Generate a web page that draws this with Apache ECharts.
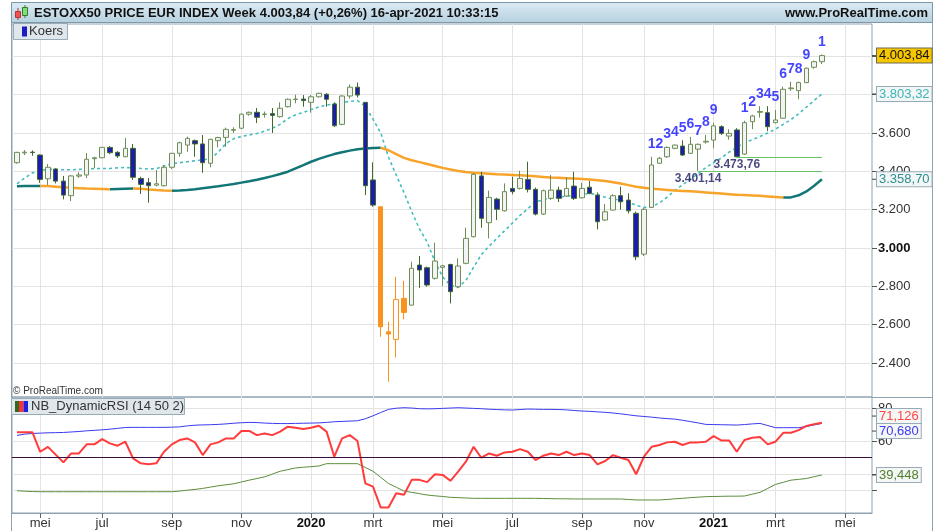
<!DOCTYPE html>
<html>
<head>
<meta charset="utf-8">
<script src="https://cdn.jsdelivr.net/npm/echarts@6/dist/echarts.min.js"></script>
<style>
html,body{margin:0;padding:0;background:#fff;}
#chart{width:940px;height:531px;}
</style>
</head>
<body>
<div id="chart"></div>
<script>
/* DATOS SEMANALES ESTOXX50 (abr 2019 - abr 2021) */
var opens = [
	3445,3496,3500,3485,3361,3412,3349,3273,3375,3381,
	3466,3471,3525,3499,3476,3520,3363,3341,3328,3325,
	3421,3494,3537,3560,3543,3442,3560,3577,3614,3625,
	3698,3708,3697,3701,3685,3737,3775,3777,3760,3789,
	3802,3751,3645,3793,3839,3760,3355,3215,2563,2523,
	2737,2702,2911,2897,2842,2899,2914,2798,2920,3059,
	3376,3132,3255,3194,3311,3311,3358,3306,3177,3259,
	3302,3271,3323,3262,3317,3276,3146,3198,3273,3250,
	3181,2968,3212,3442,3476,3520,3532,3494,3516,3553,
	3563,3633,3584,3616,3490,3659,3708,3706,3654,3677,
	3831,3821,3863,3943,3972];
var closes = [
	3499,3500,3498,3358,3421,3349,3276,3376,3381,3463,
	3471,3525,3497,3480,3520,3369,3332,3325,3335,3421,
	3494,3549,3572,3543,3445,3567,3576,3619,3618,3698,
	3708,3682,3699,3692,3729,3776,3777,3769,3789,3807,
	3776,3638,3793,3839,3798,3325,3224,2589,2551,2732,
	2664,2894,2885,2807,2932,2907,2772,2906,3050,3384,
	3155,3264,3202,3294,3294,3363,3306,3177,3299,3302,
	3259,3311,3259,3311,3285,3137,3189,3273,3241,3194,
	2954,3202,3433,3468,3525,3537,3485,3541,3541,3557,
	3637,3598,3598,3476,3654,3689,3712,3633,3668,3828,
	3835,3863,3938,3972,4003.84];
var lows = [
	3440,3485,3481,3340,3329,3337,3254,3245,3366,3365,
	3416,3468,3490,3470,3474,3355,3282,3236,3322,3320,
	3412,3476,3502,3476,3393,3421,3525,3528,3600,3620,
	3690,3652,3680,3600,3680,3733,3755,3737,3706,3785,
	3737,3631,3640,3780,3785,3276,3215,2537,2302,2429,
	2627,2700,2792,2798,2835,2801,2711,2790,2915,3055,
	3106,3050,3146,3190,3280,3305,3290,3170,3172,3250,
	3240,3266,3250,3258,3280,3097,3140,3195,3200,3180,
	2937,2958,3210,3440,3470,3515,3480,3490,3401.14,3545,
	3520,3590,3565,3473.76,3485,3620,3680,3610,3650,3675,
	3820,3776,3860,3935,3960];
var highs = [
	3502,3511,3509,3488,3438,3416,3376,3381,3395,3496,
	3476,3527,3532,3505,3574,3543,3372,3366,3407,3433,
	3496,3555,3581,3566,3590,3570,3580,3628,3630,3702,
	3712,3730,3712,3730,3760,3780,3800,3798,3798,3810,
	3808,3760,3798,3853,3863,3760,3447,3215,2615,2850,
	2829,2928,2958,2903,3028,2912,2918,2946,3106,3391,
	3398,3299,3262,3337,3372,3403,3450,3315,3305,3381,
	3320,3370,3398,3340,3350,3290,3230,3280,3320,3285,
	3190,3210,3476,3475,3530,3540,3562,3580,3545,3590,
	3654,3640,3620,3625,3664,3695,3740,3740,3720,3842,
	3868,3868,3942,3978,4010];
/* media corta (punteada) */
var maShort = [
	3335,3365,3392,3405,3410,3410,3408,3408,3410,3412,
	3414,3415,3415,3418,3420,3418,3415,3412,3414,3428,
	3440,3445,3450,3455,3460,3465,3500,3545,3570,3582,
	3590,3597,3610,3625,3645,3675,3695,3707,3722,3736,
	3745,3752,3760,3765,3769,3740,3672,3600,3475,3380,
	3290,3190,3100,3030,2930,2850,2805,2795,2830,2900,
	2965,3010,3050,3090,3130,3170,3205,3240,3252,3262,
	3266,3270,3275,3280,3285,3278,3265,3255,3250,3240,
	3222,3212,3215,3235,3265,3300,3330,3360,3388,3420,
	3445,3470,3500,3525,3550,3565,3582,3600,3620,3645,
	3670,3700,3735,3770,3803.32];
/* media larga (gruesa) */
var maLong = [
	3322,3323,3323.5,3324,3323,3320,3317,3314,3312,3310,
	3309,3308,3307,3308,3309,3310,3309,3305,3302,3300,
	3299,3300,3303,3307,3312,3317,3322,3328,3334,3341,
	3348,3356,3365,3375,3386,3398,3415,3432,3450,3465,
	3478,3490,3500,3508,3515,3519,3522,3523,3510,3490,
	3470,3458,3448,3438,3428,3418,3410,3402,3396,3392,
	3390,3388,3385,3383,3381,3379,3377,3374,3371,3368,
	3366,3364,3362,3360,3357,3354,3349,3343,3336,3328,
	3320,3314,3309,3306,3303,3300,3298,3296,3293,3290,
	3287,3284,3281,3278,3276,3274,3272,3269,3266,3263,
	3264,3275,3295,3325,3358.70];
/* NB_DynamicRSI */
var rsi = [
	65.3,65.3,65.3,53.5,56.5,51.8,47.1,52.5,52.5,58,
	58,61.2,58.6,57.2,59.6,49.5,46.5,45.9,46.5,53.5,
	58,60.6,61.6,59.2,51.5,58,59.2,61.6,61.6,66.1,
	66.1,63.6,64.6,63.6,65.7,68.7,68.1,67.3,68.1,69.3,
	65.7,50.5,61.6,63.6,60,34.4,32.4,19.7,19.7,28.4,
	27.4,36.5,36.5,35.1,39.9,39.5,35.9,41.5,47.5,56.5,
	49.9,52.5,51.1,53.1,53.5,55.1,53.5,48.5,51.1,52.5,
	51.5,53.5,51.5,52.5,51.5,45.9,47.9,51.5,49.9,48.5,
	39.9,50.5,56.5,57.6,59.2,59.6,57.6,59.2,59.2,59.6,
	63,60.4,60.4,53.5,60.6,62,62.4,58,59.6,65,
	65,66.6,69.2,70.2,71.126];
var rsiUp = [
	63.4,64.2,64.6,64.8,65.0,65.1,65.2,65.5,65.8,66.2,
	66.5,66.8,67.2,67.7,68.2,68.3,68.3,68.3,68.3,68.3,
	68.4,68.6,69.2,69.6,69.8,69.9,70.1,70.4,70.8,71.1,
	71.3,71.2,70.9,70.7,70.6,70.6,70.7,70.8,70.9,71.0,
	71.3,71.7,71.9,72.1,72.3,73.5,75.3,77.3,79.2,79.9,
	80.2,80.0,79.6,79.5,79.6,79.8,80.0,80.2,80.0,79.8,
	79.6,79.3,79.1,78.9,78.8,79.1,79.4,79.3,79.2,79.2,
	79.1,78.9,78.5,78.2,78.0,77.7,77.4,77.0,76.5,75.9,
	75.3,74.9,74.5,74.0,73.6,73.3,72.6,71.8,71.0,70.1,
	70.0,69.9,69.8,69.7,70.0,70.4,70.7,69.4,68.1,68.1,
	68.1,68.1,68.8,69.8,70.680];
var rsiLow = [
	29.9,29.6,29.4,29.3,29.3,29.3,29.3,29.3,29.3,29.3,
	29.3,29.3,29.3,29.3,29.3,29.3,29.3,29.3,29.3,29.3,
	29.3,29.7,30.2,30.7,31.3,32.1,32.9,33.5,34.1,35.2,
	36.3,37.3,38.3,40.0,41.7,42.7,43.7,44.1,44.5,44.9,
	46.3,46.3,46.3,46.3,46.3,44.0,41.7,38.0,34.3,32.0,
	29.7,28.9,28.1,27.3,26.8,26.4,25.9,25.7,25.5,25.3,
	25.3,25.3,25.3,25.3,25.3,25.3,25.3,25.3,25.2,25.1,
	25.0,25.0,24.9,24.9,24.9,24.9,24.9,24.9,24.9,24.6,
	24.3,24.3,24.3,24.3,24.6,25.0,25.3,25.7,26.0,26.3,
	26.4,26.5,26.6,26.6,26.7,27.8,28.9,31.3,33.7,35.0,
	36.3,36.8,37.3,38.4,39.448];
/* conteo TD encima de las velas */
var tdIndex = [82,83,84,85,86,87,88,89,90,94,95,96,97,98,99,100,101,102,104];
var tdText = ['1','2','3','4','5','6','7','8','9','1','2','3','4','5','6','7','8','9','1'];
/* soportes */
var supportIdx = [88, 93];
var supportVal = [3401.14, 3473.76];
/* ejes */
var priceTicks = [2400,2600,2800,3000,3200,3400,3600,3800,4000];
var rsiTicks = [30,40,60,80];
var rsiLabels = [40,60,80];
var meses = ['jan','feb','mrt','apr','mei','jun','jul','aug','sep','okt','nov','dec'];

var FONT = '"Liberation Sans", Arial, sans-serif';
var WEEK = 7 * 86400000;
var firstWeek = Date.UTC(2019, 3, 15);
var xMin = Date.UTC(2019, 3, 10, 12);
var xMax = Date.UTC(2021, 4, 27, 7);
var weeks = opens.map(function (_, i) { return firstWeek + i * WEEK; });

// primera semana de cada mes impar (como ProRealTime)
var monthTicks = [];
for (var t = firstWeek + WEEK; t <= xMax; t += WEEK) {
	var m = new Date(t).getUTCMonth();
	if (m !== new Date(t - WEEK).getUTCMonth() && m % 2 === 0) monthTicks.push(t);
}

function fmtNl(v, dec) {
	var s = v.toFixed(dec).split('.');
	var ip = s[0].replace(/\B(?=(\d{3})+(?!\d))/g, '.');
	return s[1] ? ip + ',' + s[1] : ip;
}

// velas naranjas (semanas marcadas por ProRealTime)
var orangeWeeks = [47, 48, 49, 50];
var candles = weeks.map(function (w, i) {
	var item = { value: [w, opens[i], closes[i], lows[i], highs[i]] };
	if (orangeWeeks.indexOf(i) >= 0) {
		var down = closes[i] < opens[i];
		item.itemStyle = {
			color: down ? '#f7931e' : '#fbfbfb', color0: down ? '#f7931e' : '#fbfbfb',
			borderColor: '#f7931e', borderColor0: '#f7931e'
		};
	}
	return item;
});

// media larga: verde azulado si sube, naranja si baja
var n = maLong.length;
function rising(i) { return maLong[i] >= maLong[i - 1]; }
var maRise = maLong.map(function (v, i) {
	var ok = (i > 0 && rising(i)) || (i < n - 1 && rising(i + 1));
	return [weeks[i], ok ? v : null];
});
var maFall = maLong.map(function (v, i) {
	var ok = (i > 0 && !rising(i)) || (i < n - 1 && !rising(i + 1));
	return [weeks[i], ok ? v : null];
});

function pair(arr) { return arr.map(function (v, i) { return [weeks[i], v]; }); }

var gridColor = '#e3e3e3';
var borderColor = '#8fa2b0';

var option = {
	animation: false,
	backgroundColor: '#ffffff',
	textStyle: { fontFamily: FONT },
	grid: [
		{ left: 12, top: 24, width: 860, height: 373, show: true, borderColor: borderColor, borderWidth: 1 },
		{ left: 12, top: 397, width: 860, height: 116, show: true, borderColor: borderColor, borderWidth: 1 }
	],
	xAxis: [
		{
			type: 'value', gridIndex: 0, min: xMin, max: xMax, scale: true,
			axisLine: { show: false },
			axisTick: { show: false, customValues: monthTicks },
			axisLabel: { show: false, customValues: monthTicks },
			splitLine: { show: true, lineStyle: { color: gridColor } }
		},
		{
			type: 'value', gridIndex: 1, min: xMin, max: xMax, scale: true,
			axisLine: { show: true, lineStyle: { color: borderColor } },
			axisTick: { show: true, customValues: monthTicks, length: 5, lineStyle: { color: '#666' } },
			axisLabel: {
				customValues: monthTicks, margin: 4, color: '#333', fontSize: 13,
				formatter: function (v) {
					var d = new Date(v);
					return d.getUTCMonth() === 0 ? '{y|' + d.getUTCFullYear() + '}' : meses[d.getUTCMonth()];
				},
				rich: { y: { fontWeight: 'bold', color: '#111', fontSize: 13 } }
			},
			splitLine: { show: true, lineStyle: { color: gridColor } }
		}
	],
	yAxis: [
		{
			type: 'value', gridIndex: 0, position: 'right', min: 2222.6, max: 4168.7,
			axisLine: { show: false },
			axisTick: { show: true, customValues: priceTicks, length: 5, lineStyle: { color: '#555' } },
			axisLabel: {
				customValues: priceTicks, margin: 6, color: '#333', fontSize: 13,
				formatter: function (v) { return v === 3000 ? '{b|3.000}' : fmtNl(v, 0); },
				rich: { b: { fontWeight: 'bold', color: '#111', fontSize: 13 } }
			},
			splitLine: { show: true, lineStyle: { color: gridColor } }
		},
		{
			type: 'value', gridIndex: 1, position: 'right', min: 16.4, max: 86.7,
			axisLine: { show: false },
			axisTick: { show: true, customValues: rsiTicks, length: 5, lineStyle: { color: '#555' } },
			axisLabel: { customValues: rsiLabels, margin: 6, color: '#333', fontSize: 13 },
			splitLine: { show: true, lineStyle: { color: gridColor } }
		}
	],
	series: [
		{
			name: 'ma10', type: 'line', xAxisIndex: 0, yAxisIndex: 0, data: pair(maShort),
			symbol: 'none', silent: true, z: 2,
			lineStyle: { color: '#45bcbe', width: 1.6, type: [3, 3] }
		},
		{
			name: 'maUp', type: 'line', xAxisIndex: 0, yAxisIndex: 0, data: maRise,
			symbol: 'none', silent: true, connectNulls: false, z: 2,
			lineStyle: { color: '#127676', width: 2.5 }
		},
		{
			name: 'maDown', type: 'line', xAxisIndex: 0, yAxisIndex: 0, data: maFall,
			symbol: 'none', silent: true, connectNulls: false, z: 2,
			lineStyle: { color: '#f8a32a', width: 2.5 }
		},
		{
			name: 'Koers', type: 'candlestick', xAxisIndex: 0, yAxisIndex: 0, data: candles,
			barWidth: 5, silent: true, z: 3,
			itemStyle: { color: '#f3f3f3', color0: '#1c1cb0', borderColor: '#6e8e58', borderColor0: '#3f6a2a', borderWidth: 1 },
			markLine: {
				silent: true, symbol: 'none', label: { show: false },
				lineStyle: { color: '#66c466', width: 1, type: 'solid' },
				data: supportIdx.map(function (i, k) {
					return [{ coord: [weeks[i], supportVal[k]] }, { coord: [weeks[n - 1], supportVal[k]] }];
				})
			}
		},
		{
			name: 'td', type: 'scatter', xAxisIndex: 0, yAxisIndex: 0, silent: true, z: 5,
			symbol: 'circle', symbolSize: 1, itemStyle: { color: 'rgba(0,0,0,0)' },
			data: tdIndex.map(function (i) { return [weeks[i], highs[i]]; }),
			label: {
				show: true, position: 'top', distance: 5, color: '#1414ff', fontWeight: 'bold', fontSize: 14,
				formatter: function (p) { return tdText[p.dataIndex]; }
			}
		},
		{
			name: 'soportes', type: 'scatter', xAxisIndex: 0, yAxisIndex: 0, silent: true, z: 5,
			symbol: 'circle', symbolSize: 1, itemStyle: { color: 'rgba(0,0,0,0)' },
			data: supportIdx.map(function (i, k) { return [weeks[i], supportVal[k]]; }),
			label: {
				show: true, position: 'bottom', distance: 1, color: '#1a1a60', fontWeight: 'bold', fontSize: 12,
				formatter: function (p) { return fmtNl(p.value[1], 2); }
			}
		},
		{
			name: 'rsiUp', type: 'line', xAxisIndex: 1, yAxisIndex: 1, data: pair(rsiUp),
			symbol: 'none', silent: true, lineStyle: { color: '#3a3af0', width: 1 }
		},
		{
			name: 'rsiLow', type: 'line', xAxisIndex: 1, yAxisIndex: 1, data: pair(rsiLow),
			symbol: 'none', silent: true, lineStyle: { color: '#5e8c3c', width: 1 }
		},
		{
			name: 'rsi', type: 'line', xAxisIndex: 1, yAxisIndex: 1, data: pair(rsi),
			symbol: 'none', silent: true, lineStyle: { color: '#ff3b3b', width: 2 },
			markLine: {
				silent: true, symbol: 'none', label: { show: false },
				lineStyle: { color: '#3b0d3b', width: 1, type: 'solid' },
				data: [{ yAxis: 50 }]
			}
		}
	]
};

var chart = echarts.init(document.getElementById('chart'));
chart.setOption(option);

/* ETIQUETAS FIJAS Y CAJAS DE VALOR */
function valueBox(text, y, color, bg, stroke) {
	return [
		{ type: 'line', z: 100, shape: { x1: 872, y1: y, x2: 877, y2: y }, style: { stroke: '#444', lineWidth: 1 } },
		{
			type: 'text', z: 101, x: 877, y: y,
			style: {
				text: text, fill: color, font: '13px ' + FONT, verticalAlign: 'middle', align: 'left',
				backgroundColor: bg, borderColor: stroke, borderWidth: 1, padding: [1, 2, 0, 2], lineHeight: 13
			}
		}
	];
}
var yP = function (v) { return chart.convertToPixel({ yAxisIndex: 0 }, v); };
var yR = function (v) { return chart.convertToPixel({ yAxisIndex: 1 }, v); };
var last = n - 1;
var yRed = yR(rsi[last]), yBlue = yR(rsiUp[last]);
if (Math.abs(yRed - yBlue) < 15) {
	var mid = (yRed + yBlue) / 2;
	yRed = mid - 7; yBlue = mid + 8;
}

var graphics = [
	// cabecera
	{
		type: 'rect', z: 90, shape: { x: 11.5, y: 2.5, width: 921, height: 20 },
		style: {
			fill: new echarts.graphic.LinearGradient(0, 0, 0, 1, [{ offset: 0, color: '#dcebf3' }, { offset: 1, color: '#b5d0df' }]),
			stroke: '#7f98a8', lineWidth: 1
		}
	},
	{ type: 'line', z: 91, shape: { x1: 18, y1: 8, x2: 18, y2: 20 }, style: { stroke: '#b33', lineWidth: 1 } },
	{ type: 'rect', z: 92, shape: { x: 15.5, y: 11.5, width: 5, height: 6 }, style: { fill: '#f05050', stroke: '#b33', lineWidth: 1 } },
	{ type: 'line', z: 91, shape: { x1: 25, y1: 5, x2: 25, y2: 18 }, style: { stroke: '#3a7a2a', lineWidth: 1 } },
	{ type: 'rect', z: 92, shape: { x: 22.5, y: 7.5, width: 5, height: 8 }, style: { fill: '#7de07d', stroke: '#3a7a2a', lineWidth: 1 } },
	{
		type: 'text', z: 92, x: 34, y: 13,
		style: { text: 'ESTOXX50 PRICE EUR INDEX Week 4.003,84 (+0,26%) 16-apr-2021 10:33:15', font: 'bold 13px ' + FONT, fill: '#111', verticalAlign: 'middle' }
	},
	{
		type: 'text', z: 92, x: 928, y: 13,
		style: { text: 'www.ProRealTime.com', font: 'bold 13px ' + FONT, fill: '#111', align: 'right', verticalAlign: 'middle' }
	},
	// marco
	{ type: 'line', z: 95, shape: { x1: 11.5, y1: 22, x2: 11.5, y2: 531 }, style: { stroke: borderColor, lineWidth: 1 } },
	{ type: 'line', z: 95, shape: { x1: 932.5, y1: 22, x2: 932.5, y2: 531 }, style: { stroke: borderColor, lineWidth: 1 } },
	{ type: 'line', z: 95, shape: { x1: 872, y1: 397.5, x2: 932, y2: 397.5 }, style: { stroke: borderColor, lineWidth: 1 } },
	// leyenda Koers
	{ type: 'rect', z: 96, shape: { x: 13.5, y: 23.5, width: 54, height: 16 }, style: { fill: '#dfe6ec', stroke: '#9aabb8', lineWidth: 1 } },
	{ type: 'rect', z: 97, shape: { x: 22, y: 26.5, width: 5, height: 10 }, style: { fill: '#1c1cc0' } },
	{ type: 'text', z: 97, x: 29, y: 31.5, style: { text: 'Koers', font: '13px ' + FONT, fill: '#333', verticalAlign: 'middle' } },
	// copyright
	{ type: 'text', z: 97, x: 13, y: 391, style: { text: '\u00a9 ProRealTime.com', font: '10px ' + FONT, fill: '#333', verticalAlign: 'middle' } },
	// leyenda RSI
	{ type: 'rect', z: 96, shape: { x: 11.5, y: 398.5, width: 173, height: 16 }, style: { fill: '#dfe6ec', stroke: '#9aabb8', lineWidth: 1 } },
	{ type: 'rect', z: 97, shape: { x: 15, y: 401, width: 4, height: 11 }, style: { fill: '#2f6a1f' } },
	{ type: 'rect', z: 97, shape: { x: 19, y: 401, width: 4.5, height: 11 }, style: { fill: '#ff3030' } },
	{ type: 'rect', z: 97, shape: { x: 23.5, y: 401, width: 4.5, height: 11 }, style: { fill: '#2020e0' } },
	{ type: 'text', z: 97, x: 31, y: 406.5, style: { text: 'NB_DynamicRSI (14 50 2)', font: '13px ' + FONT, fill: '#333', verticalAlign: 'middle' } }
];

graphics = graphics
	.concat(valueBox(fmtNl(closes[last], 2), yP(closes[last]), '#111', '#f7c600', '#6d6a50'))
	.concat(valueBox(fmtNl(maShort[last], 2), yP(maShort[last]), '#3fb3b5', '#f2f6f6', '#9aabb8'))
	.concat(valueBox(fmtNl(maLong[last], 2), yP(maLong[last]), '#2f8f8f', '#f2f6f6', '#9aabb8'))
	.concat(valueBox(fmtNl(rsi[last], 3), yRed, '#ff4545', '#f5f6f6', '#9aabb8'))
	.concat(valueBox(fmtNl(rsiUp[last], 3), yBlue, '#3c3cf0', '#f5f6f6', '#9aabb8'))
	.concat(valueBox(fmtNl(rsiLow[last], 3), yR(rsiLow[last]), '#4f7f2f', '#f5f6f6', '#9aabb8'));

chart.setOption({ graphic: graphics });
</script>
</body>
</html>
